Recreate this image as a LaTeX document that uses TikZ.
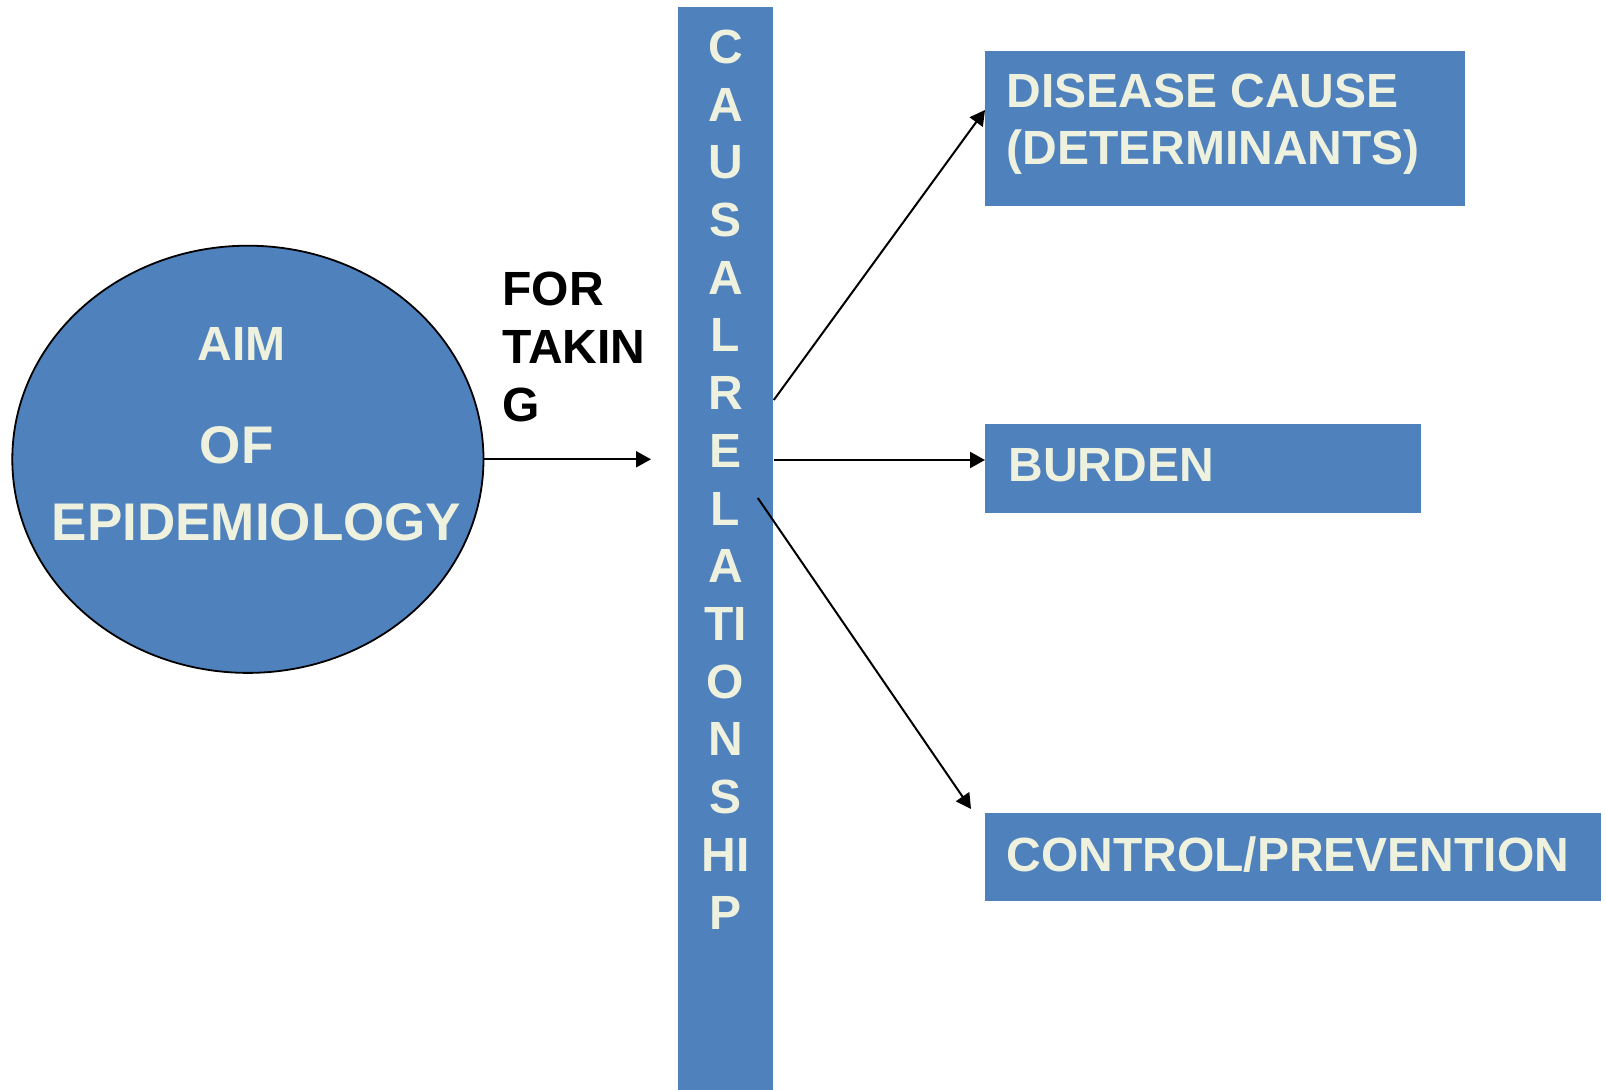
\documentclass[tikz,border=0pt]{standalone}
\usepackage{fontspec}
\setmainfont{Liberation Sans}
\usepackage{xcolor}
\usetikzlibrary{shapes.geometric}
\usetikzlibrary{calc}
\usetikzlibrary{arrows.meta}
\definecolor{boxblue}{RGB}{79,129,189}
\definecolor{cream}{RGB}{238,241,222}
\tikzset{
  blueblock/.style={fill=boxblue, draw=none, inner sep=0pt},
  creamtext/.style={text=cream, font=\bfseries\fontsize{24}{28.8}\selectfont, inner sep=0pt},
  blacktext/.style={text=black, font=\bfseries\fontsize{24}{28.8}\selectfont, inner sep=0pt},
  bigtext/.style={creamtext, font=\bfseries\fontsize{26.5}{32}\selectfont},
  link/.style={-{Triangle[length=7.5pt,width=8pt]}, line width=1pt},
}
\begin{document}
\begin{tikzpicture}[x=0.5pt,y=-0.5pt]
   \useasboundingbox (0,0) rectangle (1606,1090);
   % aim of epidemiology
   \node[ellipse, fill=boxblue, draw=black, line width=0.9pt, inner sep=0pt,
         minimum width=235.6pt, minimum height=213.6pt] (aim) at (247.9,459.3) {};
   \node[creamtext, anchor=base] (aimword) at (241.5,361) {AIM};
   \node[bigtext, anchor=base] (ofword) at (236.6,464) {OF};
   \node[bigtext, anchor=base] (epiword) at (256.5,541) {EPIDEMIOLOGY};
   \node[blacktext, align=left, anchor=north west] (taking) at (502,272) {FOR\\TAKIN\\G};
   % causal relationship bar
   \node[blueblock, minimum width=47.5pt, minimum height=541.5pt, anchor=north west] (bar) at (678,7) {};
   \foreach \ch [count=\i from 0] in {C,A,U,S,A,L,R,E,L,A,TI,O,N,S,HI,P}
      \node[creamtext, anchor=base] (letter\i) at (725.5,63.5+57.7*\i) {\ch};
   % boxes on the right
   \node[blueblock, minimum width=240pt, minimum height=77.5pt, anchor=north west] (cause) at (985,51) {};
   \node[creamtext, align=left, anchor=north west] (causetext) at (1006,73.3) {DISEASE CAUSE\\(DETERMINANTS)};
   \node[blueblock, minimum width=218pt, minimum height=44.5pt, anchor=north west] (burden) at (985,424) {};
   \node[creamtext, anchor=base west] (burdentext) at (1008,481.7) {BURDEN};
   \node[blueblock, minimum width=308pt, minimum height=44pt, anchor=north west] (control) at (985,813) {};
   \node[creamtext, anchor=base west] (controltext) at (1006,871.6) {CONTROL/PREVENTION};
   % arrows
   \coordinate (forend) at (651,459.3);
   \draw[link] (aim.east) -- (forend);
   \draw[link] (bar.east |- 0,400) -- (cause.west |- 0,110);
   \draw[link] (bar.east |- 0,460) -- (burden.west |- 0,460);
   \draw[link] ($(bar.east |- 0,498)+(-16,0)$) -- ($(control.north west)+(-14,-4)$);
\end{tikzpicture}
\end{document}
